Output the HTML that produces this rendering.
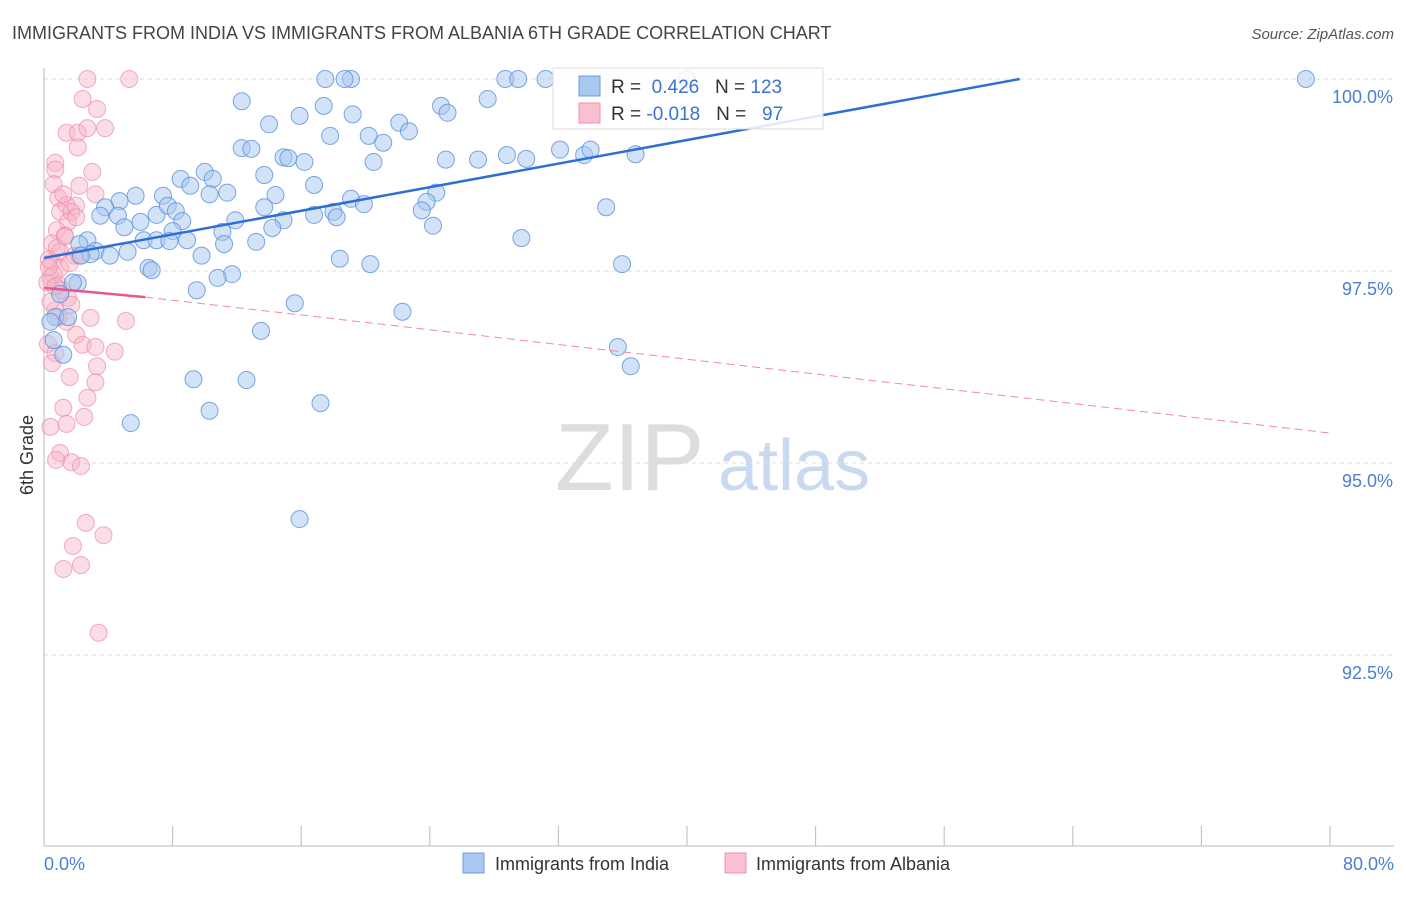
<!DOCTYPE html>
<html><head><meta charset="utf-8"><style>
body{margin:0;background:#fff;font-family:"Liberation Sans",sans-serif;}
svg text{font-family:"Liberation Sans",sans-serif;}
</style></head><body>
<svg id="chart" width="1406" height="892" xmlns="http://www.w3.org/2000/svg">
<text x="12" y="39" font-size="18" fill="#444">IMMIGRANTS FROM INDIA VS IMMIGRANTS FROM ALBANIA 6TH GRADE CORRELATION CHART</text>
<text x="1394" y="39" font-size="15" fill="#555" text-anchor="end" font-style="italic">Source: ZipAtlas.com</text>
<text x="555" y="490" font-size="96" fill="#ddd" font-family="Liberation Serif">ZIP</text>
<text x="718" y="490" font-size="72" fill="#c9daf0">atlas</text>
<g id="grid"></g><g id="axes"></g><g id="pts"></g><g id="lines"></g>
<text transform="translate(33,455) rotate(-90)" font-size="18" fill="#333" text-anchor="middle">6th Grade</text>
<g>
<rect x="553" y="68" width="270" height="61" fill="#fff" fill-opacity="0.85" stroke="#ddd"/>
<rect x="579" y="76" width="21" height="20" fill="#a8c8f0" stroke="#6a9be0"/>
<rect x="579" y="103" width="21" height="20" fill="#f8c0d0" stroke="#f090a8"/>
<text x="611" y="93" font-size="19" fill="#333">R = <tspan fill="#3a73d0">&#160;0.426</tspan>&#160;&#160;&#160;N = <tspan fill="#3a73d0">123</tspan></text>
<text x="611" y="120" font-size="19" fill="#333">R = <tspan fill="#3a73d0">-0.018</tspan>&#160;&#160;&#160;N = <tspan fill="#3a73d0">&#160;&#160;97</tspan></text>
</g>
<g>
<rect x="463" y="853" width="21" height="20" fill="#a8c8f0" stroke="#6a9be0"/>
<text x="495" y="870" font-size="18" fill="#333">Immigrants from India</text>
<rect x="725" y="853" width="21" height="20" fill="#f8c0d0" stroke="#f090a8"/>
<text x="756" y="870" font-size="18" fill="#333">Immigrants from Albania</text>
</g>
</svg>
<script>
const yTicks=[100,97.5,95,92.5];
const yTickLabels=["100.0%","97.5%","95.0%","92.5%"];
const xTickLabels=["0.0%","80.0%"];
const indiaX=[17.5,19.1,18.7,28.7,29.5,31.2,40,78.5,12.3,17.4,15.9,19.2,24.7,25.1,27.6,14.0,22.1,22.7,17.8,20.2,21.1,12.3,12.9,14.9,15.2,16.2,20.5,25.0,27.0,28.8,30.0,32.1,33.6,34.0,36.8,10.0,8.5,10.5,13.7,16.8,9.1,10.3,11.4,14.4,7.4,5.7,4.7,3.8,3.5,4.6,7.0,7.7,8.2,13.7,19.1,19.9,18.0,18.2,16.8,14.9,11.9,8.6,6.0,5.0,8.0,11.1,14.2,24.4,23.8,23.5,24.2,34.97,29.7,2.7,6.2,7.0,7.8,8.9,11.2,13.2,2.2,3.2,5.2,4.1,2.9,9.8,18.4,20.3,35.96,6.5,6.7,11.7,10.8,9.5,15.6,22.3,2.1,0.7,0.4,13.5,35.7,1.2,36.5,9.3,12.6,17.2,10.3,5.4,15.9,1.0,1.5,0.6,2.3,1.8];
const indiaY=[100,100,100,100,100,100,100,100,99.71,99.65,99.52,99.54,99.65,99.56,99.74,99.41,99.43,99.32,99.26,99.26,99.17,99.10,99.09,98.98,98.97,98.92,98.92,98.95,98.95,99.01,98.96,99.08,99.01,99.08,99.02,98.79,98.70,98.70,98.75,98.62,98.61,98.50,98.52,98.49,98.48,98.48,98.41,98.33,98.22,98.22,98.23,98.35,98.28,98.33,98.44,98.37,98.27,98.20,98.23,98.16,98.16,98.15,98.14,98.07,98.02,98.01,98.06,98.52,98.40,98.29,98.09,98.33,97.93,97.90,97.90,97.90,97.89,97.90,97.85,97.88,97.85,97.76,97.75,97.70,97.72,97.70,97.66,97.59,97.59,97.54,97.51,97.46,97.41,97.25,97.08,96.97,97.34,96.90,96.84,96.72,96.51,96.41,96.26,96.09,96.08,95.78,95.68,95.52,94.27,97.2,96.9,96.6,97.7,97.35];
const albaniaX=[2.7,5.3,2.4,3.3,3.8,1.4,2.1,2.7,2.1,0.7,0.7,3.0,0.6,2.2,3.2,0.9,1.4,1.99,1.0,1.7,1.5,0.8,1.3,0.5,1.0,1.9,0.5,1.0,0.4,0.9,1.5,1.7,0.7,2.9,5.1,1.4,2.0,0.25,2.4,3.2,4.4,0.7,3.3,1.6,3.2,2.7,1.2,2.5,1.4,0.4,1.0,1.7,2.3,0.75,2.6,3.7,1.8,2.3,1.2,3.4,0.3,0.6,1.1,0.2,0.8,1.3,2.0,0.4,1.6,0.5,0.9,2.2,1.2,0.3,0.7];
const albaniaY=[100,100,99.74,99.61,99.36,99.30,99.30,99.36,99.11,98.91,98.82,98.79,98.63,98.61,98.50,98.45,98.36,98.35,98.27,98.27,98.14,98.03,97.96,97.86,97.75,97.70,97.62,97.54,97.42,97.32,97.15,97.06,96.99,96.89,96.85,96.84,96.67,96.55,96.54,96.51,96.45,96.43,96.26,96.12,96.05,95.85,95.72,95.60,95.51,95.47,95.13,95.01,94.96,95.04,94.22,94.06,93.92,93.67,93.62,92.79,97.65,97.45,97.25,97.35,97.8,97.95,98.2,97.1,97.6,96.3,96.9,97.7,98.5,97.55,97.3];
const indiaTrend=[[0,97.67],[60.7,100]];
const albaniaTrend=[[0,97.28],[6.3,97.16],[80,95.39]];
const X=v=>44+v*(1330-44)/80;
const Y=v=>79+(100-v)*76.8;
const NS="http://www.w3.org/2000/svg";
function mk(t,a,p){const e=document.createElementNS(NS,t);for(const k in a)e.setAttribute(k,a[k]);p.appendChild(e);return e;}
const grid=document.getElementById('grid'),axes=document.getElementById('axes'),pts=document.getElementById('pts'),lines=document.getElementById('lines');
yTicks.forEach((t,i)=>{
 const l=mk('line',{x1:44,x2:1394,y1:Y(t),y2:Y(t),stroke:'#ddd','stroke-dasharray':'4,4'},grid);
 
 
 const tx=mk('text',{x:1393,y:Y(t)+24,'font-size':18,fill:'#4a7fd4','text-anchor':'end'},axes);
 tx.textContent=yTickLabels[i];
 
 
});
const ya=mk('line',{x1:44,x2:44,y1:68,y2:846,stroke:'#bbb'},axes);


const xa=mk('line',{x1:44,x2:1394,y1:846,y2:846,stroke:'#bbb'},axes);


for(let i=0;i<=10;i++){const t=mk('line',{x1:X(i*8),x2:X(i*8),y1:826,y2:846,stroke:'#bbb'},axes);
 
 }
const xl0=mk('text',{x:44,y:870,'font-size':18,fill:'#4a7fd4'},axes);xl0.textContent=xTickLabels[0];


const xl1=mk('text',{x:1394,y:870,'font-size':18,fill:'#4a7fd4','text-anchor':'end'},axes);xl1.textContent=xTickLabels[1];


albaniaX.forEach((x,i)=>{const c=mk('circle',{cx:X(x),cy:Y(albaniaY[i]),r:8.5,fill:'#f7b3c8','fill-opacity':0.45,stroke:'#ee8aa8','stroke-opacity':0.7},pts);
 
 });
indiaX.forEach((x,i)=>{const c=mk('circle',{cx:X(x),cy:Y(indiaY[i]),r:8.5,fill:'#a8c8f0','fill-opacity':0.5,stroke:'#5a90de','stroke-opacity':0.8},pts);
 
 });
const bl=mk('line',{x1:X(indiaTrend[0][0]),y1:Y(indiaTrend[0][1]),x2:X(indiaTrend[1][0]),y2:Y(indiaTrend[1][1]),stroke:'#2e6fd6','stroke-width':2.5},lines);


const pl=mk('line',{x1:X(albaniaTrend[0][0]),y1:Y(albaniaTrend[0][1]),x2:X(albaniaTrend[1][0]),y2:Y(albaniaTrend[1][1]),stroke:'#e8588a','stroke-width':2.5},lines);


const pd=mk('line',{x1:X(albaniaTrend[1][0]),y1:Y(albaniaTrend[1][1]),x2:X(albaniaTrend[2][0]),y2:Y(albaniaTrend[2][1]),stroke:'#ee89a8','stroke-width':1,'stroke-dasharray':'8,5'},lines);


</script>
</body></html>
